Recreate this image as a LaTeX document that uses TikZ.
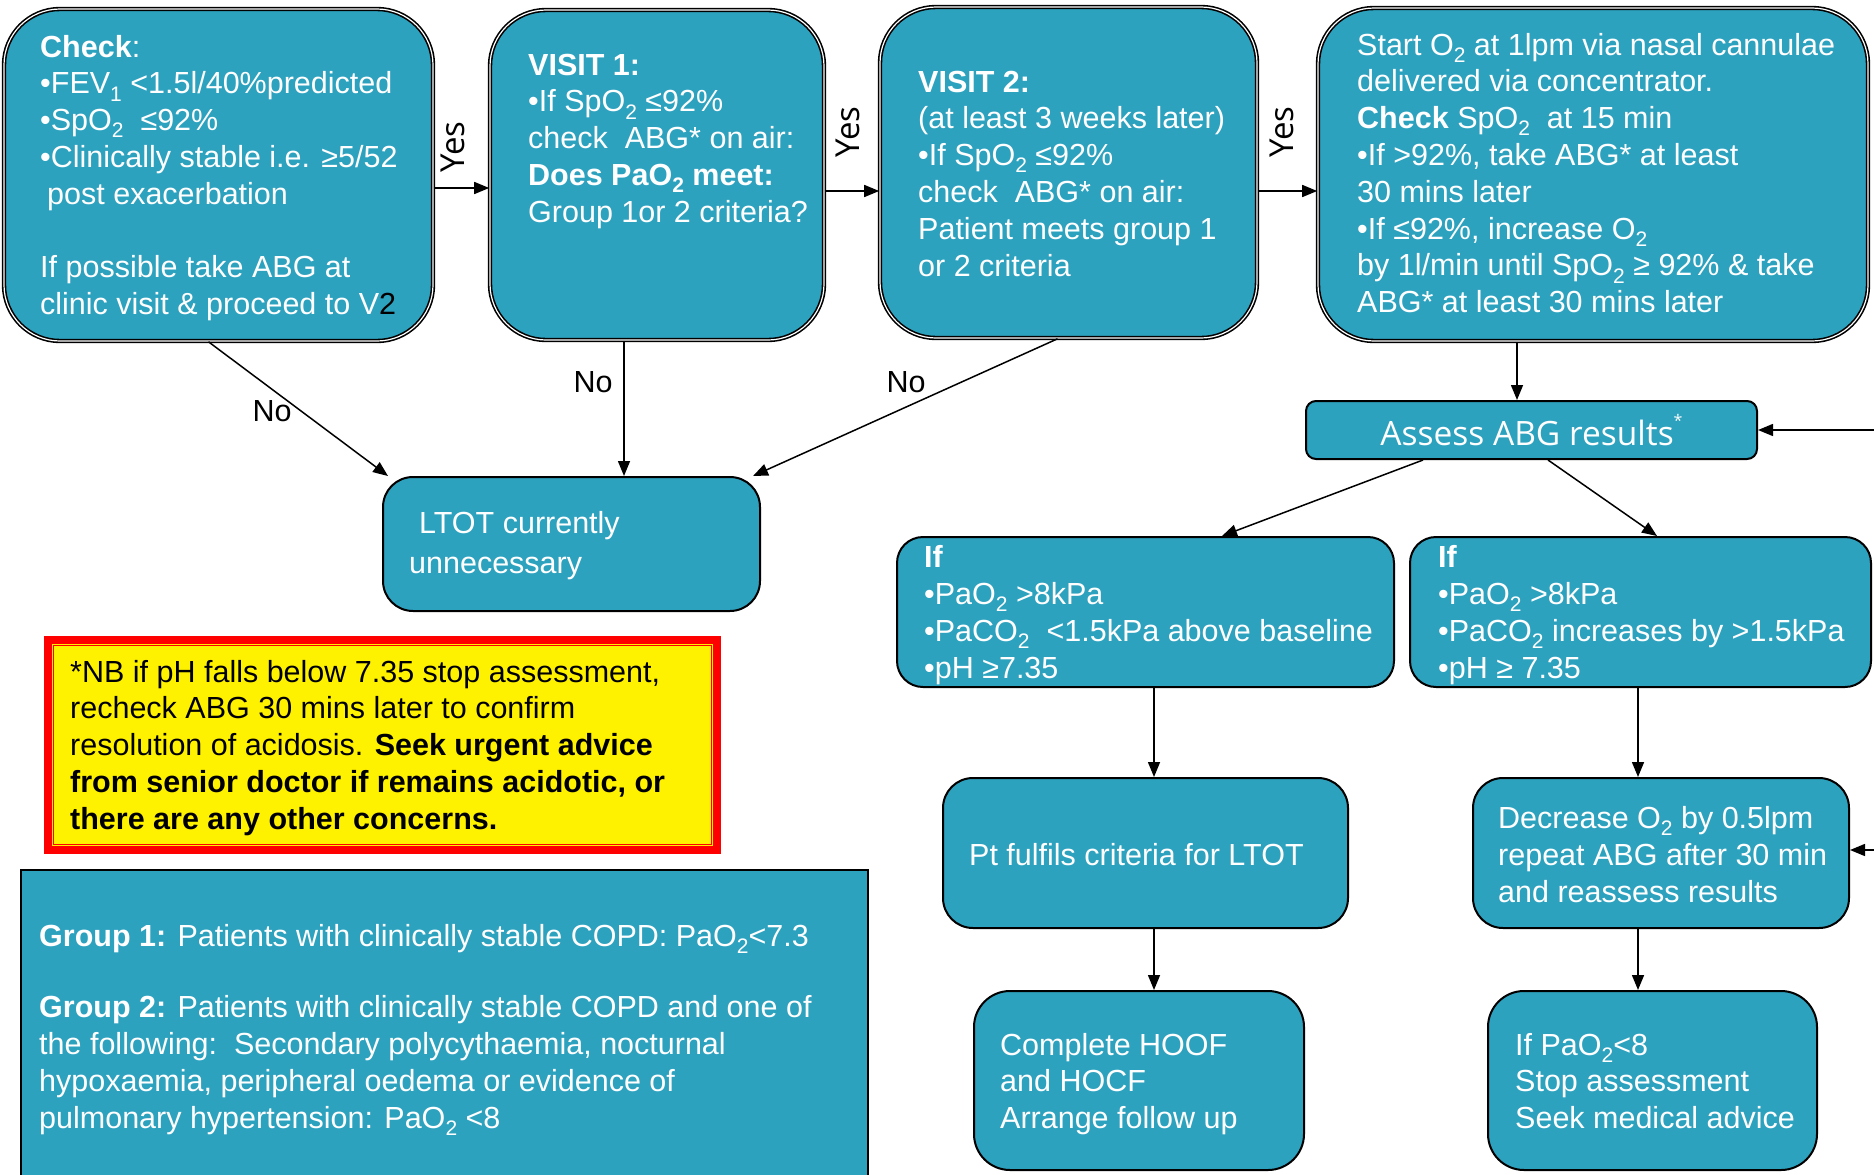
\documentclass[tikz,border=0pt]{standalone}
\usepackage{fontspec}
\setmainfont{Liberation Sans}
\newfontfamily\osans{Open Sans}
\usetikzlibrary{arrows.meta}
\definecolor{tealbox}{RGB}{45,162,191}
\newcommand\sbt[1]{\raisebox{-0.24em}{\fontsize{21}{21}\selectfont #1}}
\newcommand\mf{\fontsize{30.5}{36.8}\selectfont}
\newcommand\tb[2]{\parbox[t]{#1}{\mf #2}}
\tikzset{
  bigbox/.style={draw=black, line width=1.6pt, double=white, double distance=1.2pt,
    fill=tealbox, rounded corners=56pt, inner sep=0pt},
  smallbox/.style={draw=black, line width=2pt, fill=tealbox, rounded corners=30pt, inner sep=0pt},
  txt/.style={anchor=base west, inner sep=0pt, text=white, font=\mf},
  btxt/.style={anchor=base west, inner sep=0pt, text=black, font=\mf},
  arr/.style={draw=black, line width=1.5pt, -{Triangle[length=15pt,width=12pt]}},
  yes/.style={inner sep=0pt, text=black, font=\osans\fontsize{33}{33}\selectfont, rotate=90},
  nolab/.style={inner sep=0pt, text=black, font=\fontsize{30.5}{30.5}\selectfont},
}
\begin{document}
\begin{tikzpicture}[x=1pt, y=-1pt]
\useasboundingbox (0,0) rectangle (1874,1175);
% big boxes
\node[bigbox, minimum width=429pt, minimum height=332pt] (B1) at (218.5,175) {};
\node[bigbox, minimum width=334pt, minimum height=330pt] (B2) at (657,175) {};
\node[bigbox, minimum width=377pt, minimum height=331pt] (B3) at (1068.5,172.5) {};
\node[bigbox, minimum width=550pt, minimum height=333pt] (B4) at (1593,174.5) {};
% other boxes
\node[smallbox, rounded corners=10pt, minimum width=451pt, minimum height=58pt,
  text=white, font=\osans\fontsize{33.5}{33.5}\selectfont] (As) at (1531.5,430)
  {Assess ABG results\raisebox{0.55em}{\fontsize{16}{16}\selectfont *}};
\node[smallbox, minimum width=377pt, minimum height=134pt] (LT) at (571.5,544) {};
\node[smallbox, rounded corners=26pt, minimum width=497pt, minimum height=150pt] (IL) at (1145.5,612) {};
\node[smallbox, rounded corners=26pt, minimum width=461pt, minimum height=150pt] (IR) at (1640.5,612) {};
\node[smallbox, minimum width=405pt, minimum height=150pt] (PT) at (1145.5,853) {};
\node[smallbox, minimum width=376pt, minimum height=150pt] (DC) at (1661,853) {};
\node[smallbox, rounded corners=36pt, minimum width=330pt, minimum height=179pt] (CP) at (1139,1080.5) {};
\node[smallbox, rounded corners=36pt, minimum width=329pt, minimum height=179pt] (IP) at (1652.5,1080.5) {};
% NB box
\node[fill=yellow, draw=red, line width=8pt, minimum width=669pt, minimum height=210pt, inner sep=0pt] (NB) at (382.5,745) {};
\draw[red, line width=1.5pt] ([shift={(9.5,9.5)}]NB.north west) rectangle ([shift={(-9.5,-9.5)}]NB.south east);
% group box
\node[draw=black, line width=1.5pt, fill=tealbox, minimum width=847pt, minimum height=330pt, inner sep=0pt, anchor=north west] (GR) at (20,869) {};

% texts
\node[txt] (t1) at (40,57) {\tb{420pt}{\textbf{Check}:\\
•FEV\sbt{1} <1.5l/40\%predicted\\
•SpO\sbt{2}\ \ ≤92\%\\
•Clinically stable i.e. ≥5/52\\
\hspace*{7pt}post exacerbation\\[36.8pt]
If possible take ABG at\\
clinic visit \& proceed to V{\color{black}2}}};
\node[txt] (t2) at (528,75) {\tb{320pt}{\textbf{VISIT 1:}\\
•If SpO\sbt{2} ≤92\%\\
check\ \ ABG* on air:\\
\textbf{Does PaO\sbt{2} meet:}\\
Group 1or 2 criteria?}};
\node[txt] (t3) at (918,92) {\tb{360pt}{\textbf{VISIT 2:}\\
(at least 3 weeks later)\\
•If SpO\sbt{2} ≤92\%\\
check\ \ ABG* on air:\\
Patient meets group 1\\
or 2 criteria}};
\node[txt] (t4) at (1357,55) {\tb{520pt}{Start O\sbt{2} at 1lpm via nasal cannulae\\
delivered via concentrator.\\
\textbf{Check} SpO\sbt{2}\ \ at 15 min\\
•If >92\%, take ABG* at least\\
30 mins later\\
•If ≤92\%, increase O\sbt{2}\\
by 1l/min until SpO\sbt{2} ≥ 92\% \& take\\
ABG* at least 30 mins later}};
\node[txt] (tLT) at (409,533) {\tb{340pt}{\fontsize{30.5}{40}\selectfont \hspace*{10pt}LTOT currently\\
unnecessary}};
\node[txt] (tIL) at (924,567) {\tb{470pt}{\fontsize{30.5}{37}\selectfont \textbf{If}\\
•PaO\sbt{2} >8kPa\\
•PaCO\sbt{2}\ \ <1.5kPa above baseline\\
•pH ≥7.35}};
\node[txt] (tIR) at (1438,567) {\tb{430pt}{\fontsize{30.5}{37}\selectfont \textbf{If}\\
•PaO\sbt{2} >8kPa\\
•PaCO\sbt{2} increases by >1.5kPa\\
•pH ≥ 7.35}};
\node[txt] (tPT) at (969,865) {Pt fulfils criteria for LTOT};
\node[txt] (tDC) at (1498,828) {\tb{360pt}{\fontsize{30.5}{37}\selectfont Decrease O\sbt{2} by 0.5lpm\\
repeat ABG after 30 min\\
and reassess results}};
\node[txt] (tCP) at (1000,1055) {\tb{300pt}{Complete HOOF\\
and HOCF\\
Arrange follow up}};
\node[txt] (tIP) at (1515,1055) {\tb{300pt}{If PaO\sbt{2}<8\\
Stop assessment\\
Seek medical advice}};
\node[btxt] (tNB) at (70,682) {\tb{640pt}{\fontsize{30.5}{36.8}\selectfont *NB if pH falls below 7.35 stop assessment,\\
recheck ABG 30 mins later to confirm\\
resolution of acidosis. \textbf{Seek urgent advice}\\
\textbf{from senior doctor if remains acidotic, or}\\
\textbf{there are any other concerns.}}};
\node[txt] (tGR) at (39,946) {\tb{820pt}{\textbf{Group 1:} Patients with clinically stable COPD: PaO\sbt{2}<7.3\\[35pt]
\textbf{Group 2:} Patients with clinically stable COPD and one of\\
the following:\ \ Secondary polycythaemia, nocturnal\\
hypoxaemia, peripheral oedema or evidence of\\
pulmonary hypertension: PaO\sbt{2} <8}};

% labels
\node[yes] (y1) at (453,147) {Yes};
\node[yes] (y2) at (848,132) {Yes};
\node[yes] (y3) at (1282,132) {Yes};
\node[nolab] (n1) at (272,411) {No};
\node[nolab] (n2) at (593,382) {No};
\node[nolab] (n3) at (906,382) {No};

% connectors
\draw[arr] ([yshift=-13pt]B1.east) -- ([yshift=-13pt]B1.east -| B2.west);
\draw[arr] ([yshift=-16pt]B2.east) -- ([yshift=-16pt]B2.east -| B3.west);
\draw[arr] ([yshift=-18.5pt]B3.east) -- ([yshift=-18.5pt]B3.east -| B4.west);
\draw[arr] ([xshift=-10pt]B1.south) -- ([xshift=6pt]LT.north west);
\draw[arr] ([xshift=-33pt]B2.south) -- ([xshift=-33pt]B2.south |- LT.north);
\draw[arr] ([xshift=-11pt]B3.south) -- ([xshift=-8pt]LT.north east);
\draw[arr] ([xshift=-76pt]B4.south) -- ([xshift=-76pt]B4.south |- As.north);
\draw[arr] ([xshift=-108.5pt]As.south) -- ([xshift=76.5pt]IL.north);
\draw[arr] ([xshift=16.5pt]As.south) -- ([xshift=16.5pt]IR.north);
\draw[arr] ([xshift=8.5pt]IL.south) -- ([xshift=8.5pt]IL.south |- PT.north);
\draw[arr] ([xshift=-2.5pt]IR.south) -- ([xshift=-2.5pt]IR.south |- DC.north);
\draw[arr] ([xshift=8.5pt]PT.south) -- ([xshift=8.5pt]PT.south |- CP.north);
\draw[arr] ([xshift=-23pt]DC.south) -- ([xshift=-23pt]DC.south |- IP.north);
\coordinate (rA) at (1880,430);
\coordinate (rD) at (1880,850);
\draw[arr] (rA) -- (As.east);
\draw[arr] (rD) -- ([yshift=3pt]DC.east);
\end{tikzpicture}
\end{document}
